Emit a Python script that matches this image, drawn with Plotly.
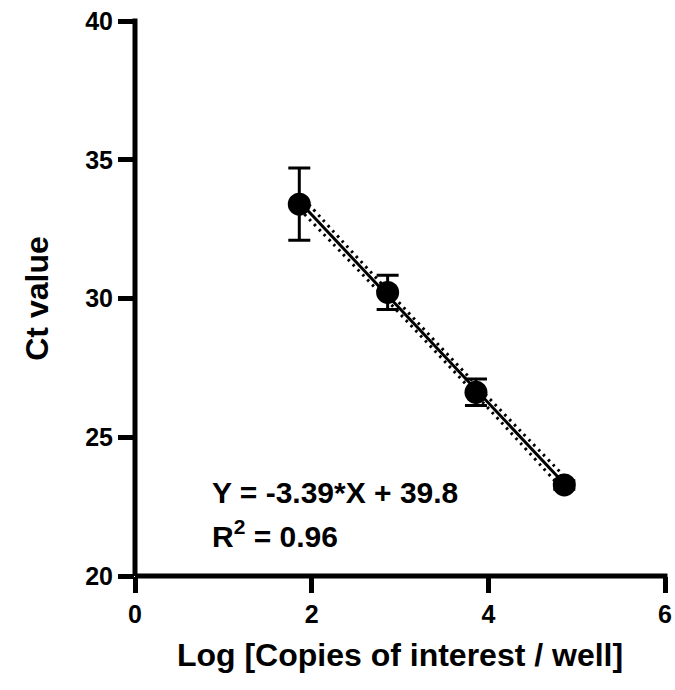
import plotly.graph_objects as go

# Data
log_copies = [1.86, 2.86, 3.86, 4.86]
ct_mean = [33.40, 30.22, 26.62, 23.28]
ct_err = [1.30, 0.62, 0.48, 0.15]

slope = -3.39
intercept = 39.8

# 95% confidence band half-widths
band_x = [1.86, 2.36, 2.86, 3.36, 3.86, 4.36, 4.86]
band_hw = [0.27, 0.22, 0.19, 0.18, 0.19, 0.22, 0.27]

x_ticks = [0, 2, 4, 6]
y_ticks = [20, 25, 30, 35, 40]

FONT = "Arial, Liberation Sans, sans-serif"

fit_x = [log_copies[0], log_copies[-1]]
fit_y = [slope * v + intercept for v in fit_x]
band_mid = [slope * v + intercept for v in band_x]
band_hi = [m + h for m, h in zip(band_mid, band_hw)]
band_lo = [m - h for m, h in zip(band_mid, band_hw)]

fig = go.Figure()
for yy in (band_hi, band_lo):
    fig.add_trace(go.Scatter(x=band_x, y=yy, mode="lines",
                             line=dict(color="black", width=3, dash="2.5px,4.5px", shape="spline"),
                             hoverinfo="skip", showlegend=False))
fig.add_trace(go.Scatter(x=fit_x, y=fit_y, mode="lines",
                         line=dict(color="black", width=3), showlegend=False))
fig.add_trace(go.Scatter(x=log_copies, y=ct_mean, mode="markers",
                         marker=dict(color="black", size=23),
                         error_y=dict(type="data", array=ct_err, visible=True,
                                      color="black", thickness=3, width=11),
                         showlegend=False))

fig.add_annotation(x=0.85, y=23.0, xref="x", yref="y", xanchor="left", yanchor="middle",
                   text="Y = -3.39*X + 39.8", showarrow=False,
                   font=dict(family=FONT, size=30, color="black", weight="bold"))
fig.add_annotation(x=0.85, y=21.5, xref="x", yref="y", xanchor="left", yanchor="middle",
                   text="R<sup>2</sup> = 0.96", showarrow=False,
                   font=dict(family=FONT, size=30, color="black", weight="bold"))

LW = 5
# axis lines drawn so that x=0 / y=20 ticks meet them exactly
fig.add_shape(type="line", xref="paper", yref="paper", x0=0, x1=0, y0=0, y1=1.0045,
              line=dict(color="black", width=LW))
fig.add_shape(type="line", xref="paper", yref="paper", x0=0, x1=1.0047, y0=0, y1=0,
              line=dict(color="black", width=LW))

fig.update_layout(
    width=675, height=690,
    margin=dict(l=134.5, r=10, t=21, b=113.5, autoexpand=False),
    plot_bgcolor="white", paper_bgcolor="white",
    font=dict(family=FONT, color="black"),
    xaxis=dict(range=[0, 6], tickvals=x_ticks, ticks="outside", ticklen=16,
               tickwidth=LW, tickcolor="black", showline=False, showgrid=False,
               zeroline=False, automargin=False, tickfont=dict(size=25, weight="bold"),
               title=dict(text="Log [Copies of interest / well]",
                          font=dict(size=32, weight="bold"), standoff=16)),
    yaxis=dict(range=[20, 40], tickvals=y_ticks, ticks="outside", ticklen=16,
               tickwidth=LW, tickcolor="black", showline=False, showgrid=False,
               zeroline=False, automargin=False, tickfont=dict(size=25, weight="bold"),
               title=dict(text="Ct value", font=dict(size=32, weight="bold"), standoff=26)),
)

fig.write_html("out.html")
